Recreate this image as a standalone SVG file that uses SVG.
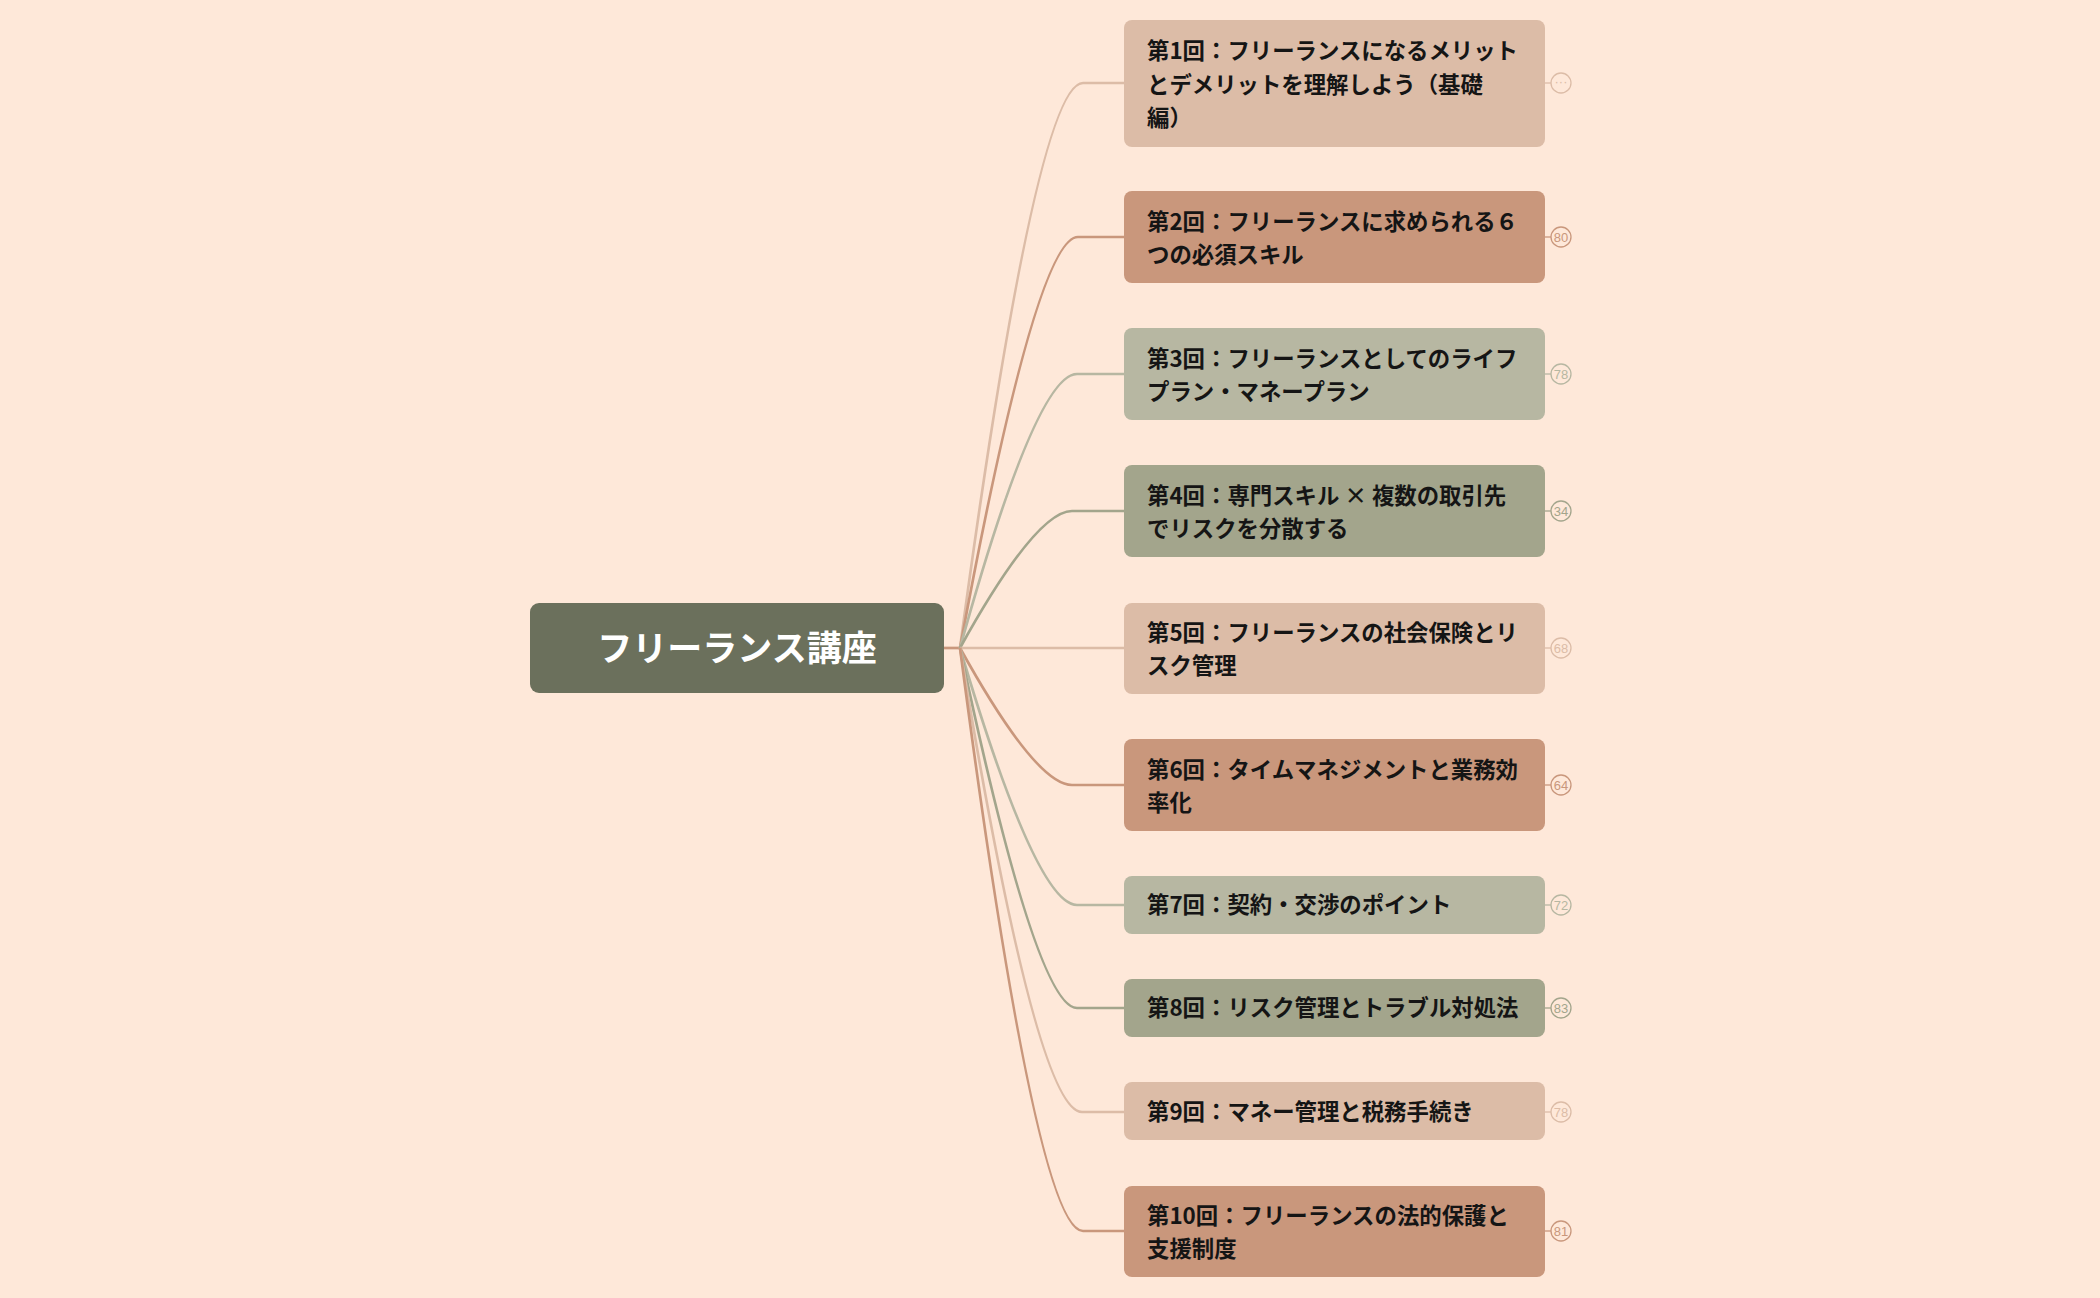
<svg xmlns="http://www.w3.org/2000/svg" width="2100" height="1298" viewBox="0 0 2100 1298">
<style>
.bg{fill:#fee8d9}
.t{font-family:"Noto Sans CJK JP","Noto Sans",sans-serif;font-weight:700;font-size:22.4px;fill:#151515}
.rt{font-family:"Noto Sans CJK JP","Noto Sans",sans-serif;font-weight:700;font-size:35px;fill:#ffffff}
.c{fill:none;stroke-width:2.7}
.b{fill:none;stroke-width:1.3}
.n{font-family:"Liberation Sans","Noto Sans",sans-serif;font-size:13px;text-anchor:middle}
.k1{fill:#dcbca7}.k2{fill:#c9977c}.k3{fill:#b7b7a2}.k4{fill:#a3a58c}
.s1{stroke:#dcbca7}.s2{stroke:#c9977c}.s3{stroke:#b7b7a2}.s4{stroke:#a3a58c}
</style>
<rect class="bg" x="0" y="0" width="2100" height="1298"/>
<g id="connectors">
<line x1="944" y1="648" x2="962" y2="648" stroke="#c9977c" stroke-width="2.7"/>
<path class="c s1" d="M960,648 Q1036,83 1083,83 L1124,83"/>
<path class="c s2" d="M960,648 Q1036,237 1078,237 L1124,237"/>
<path class="c s3" d="M960,648 Q1036,374 1077,374 L1124,374"/>
<path class="c s4" d="M960,648 Q1036,511 1072,511 L1124,511"/>
<path class="c s1" d="M960,648 L1124,648"/>
<path class="c s2" d="M960,648 Q1036,785 1072,785 L1124,785"/>
<path class="c s3" d="M960,648 Q1036,905 1077,905 L1124,905"/>
<path class="c s4" d="M960,648 Q1036,1008 1077,1008 L1124,1008"/>
<path class="c s1" d="M960,648 Q1036,1112 1082,1112 L1124,1112"/>
<path class="c s2" d="M960,648 Q1036,1231 1083,1231 L1124,1231"/>
</g>
<g id="root">
<rect x="530" y="603" width="414" height="90" rx="9" fill="#6b705c"/>
<text class="rt" x="737" y="661" text-anchor="middle">フリーランス講座</text>
</g>
<g id="n1">
<rect class="k1" x="1124" y="20" width="421" height="127" rx="8"/>
<text class="t" x="1147" y="59">第1回：フリーランスになるメリット</text>
<text class="t" x="1147" y="92.5">とデメリットを理解しよう（基礎</text>
<text class="t" x="1147" y="126">編）</text>
<line class="b s1" x1="1545" y1="83" x2="1551" y2="83"/>
<circle class="b s1" cx="1561" cy="83" r="10"/>
<text class="n" x="1561" y="86" fill="#dcbca7">···</text>
</g>
<g id="n2">
<rect class="k2" x="1124" y="191" width="421" height="92" rx="8"/>
<text class="t" x="1147" y="229.5">第2回：フリーランスに求められる６</text>
<text class="t" x="1147" y="262.5">つの必須スキル</text>
<line class="b s2" x1="1545" y1="237" x2="1551" y2="237"/>
<circle class="b s2" cx="1561" cy="237" r="10"/>
<text class="n" x="1561" y="241.5" fill="#c9977c">80</text>
</g>
<g id="n3">
<rect class="k3" x="1124" y="328" width="421" height="92" rx="8"/>
<text class="t" x="1147" y="366.5">第3回：フリーランスとしてのライフ</text>
<text class="t" x="1147" y="399.5">プラン・マネープラン</text>
<line class="b s3" x1="1545" y1="374" x2="1551" y2="374"/>
<circle class="b s3" cx="1561" cy="374" r="10"/>
<text class="n" x="1561" y="378.5" fill="#b7b7a2">78</text>
</g>
<g id="n4">
<rect class="k4" x="1124" y="465" width="421" height="92" rx="8"/>
<text class="t" x="1147" y="503.5">第4回：専門スキル × 複数の取引先</text>
<text class="t" x="1147" y="536.5">でリスクを分散する</text>
<line class="b s4" x1="1545" y1="511" x2="1551" y2="511"/>
<circle class="b s4" cx="1561" cy="511" r="10"/>
<text class="n" x="1561" y="515.5" fill="#a3a58c">34</text>
</g>
<g id="n5">
<rect class="k1" x="1124" y="603" width="421" height="91" rx="8"/>
<text class="t" x="1147" y="640.5">第5回：フリーランスの社会保険とリ</text>
<text class="t" x="1147" y="673.5">スク管理</text>
<line class="b s1" x1="1545" y1="648" x2="1551" y2="648"/>
<circle class="b s1" cx="1561" cy="648" r="10"/>
<text class="n" x="1561" y="652.5" fill="#dcbca7">68</text>
</g>
<g id="n6">
<rect class="k2" x="1124" y="739" width="421" height="92" rx="8"/>
<text class="t" x="1147" y="777.5">第6回：タイムマネジメントと業務効</text>
<text class="t" x="1147" y="810.5">率化</text>
<line class="b s2" x1="1545" y1="785" x2="1551" y2="785"/>
<circle class="b s2" cx="1561" cy="785" r="10"/>
<text class="n" x="1561" y="789.5" fill="#c9977c">64</text>
</g>
<g id="n7">
<rect class="k3" x="1124" y="876" width="421" height="58" rx="8"/>
<text class="t" x="1147" y="913">第7回：契約・交渉のポイント</text>
<line class="b s3" x1="1545" y1="905" x2="1551" y2="905"/>
<circle class="b s3" cx="1561" cy="905" r="10"/>
<text class="n" x="1561" y="909.5" fill="#b7b7a2">72</text>
</g>
<g id="n8">
<rect class="k4" x="1124" y="979" width="421" height="58" rx="8"/>
<text class="t" x="1147" y="1016">第8回：リスク管理とトラブル対処法</text>
<line class="b s4" x1="1545" y1="1008" x2="1551" y2="1008"/>
<circle class="b s4" cx="1561" cy="1008" r="10"/>
<text class="n" x="1561" y="1012.5" fill="#a3a58c">83</text>
</g>
<g id="n9">
<rect class="k1" x="1124" y="1082" width="421" height="58" rx="8"/>
<text class="t" x="1147" y="1120">第9回：マネー管理と税務手続き</text>
<line class="b s1" x1="1545" y1="1112" x2="1551" y2="1112"/>
<circle class="b s1" cx="1561" cy="1112" r="10"/>
<text class="n" x="1561" y="1116.5" fill="#dcbca7">78</text>
</g>
<g id="n10">
<rect class="k2" x="1124" y="1186" width="421" height="91" rx="8"/>
<text class="t" x="1147" y="1223.5">第10回：フリーランスの法的保護と</text>
<text class="t" x="1147" y="1256.5">支援制度</text>
<line class="b s2" x1="1545" y1="1231" x2="1551" y2="1231"/>
<circle class="b s2" cx="1561" cy="1231" r="10"/>
<text class="n" x="1561" y="1235.5" fill="#c9977c">81</text>
</g>
</svg>
